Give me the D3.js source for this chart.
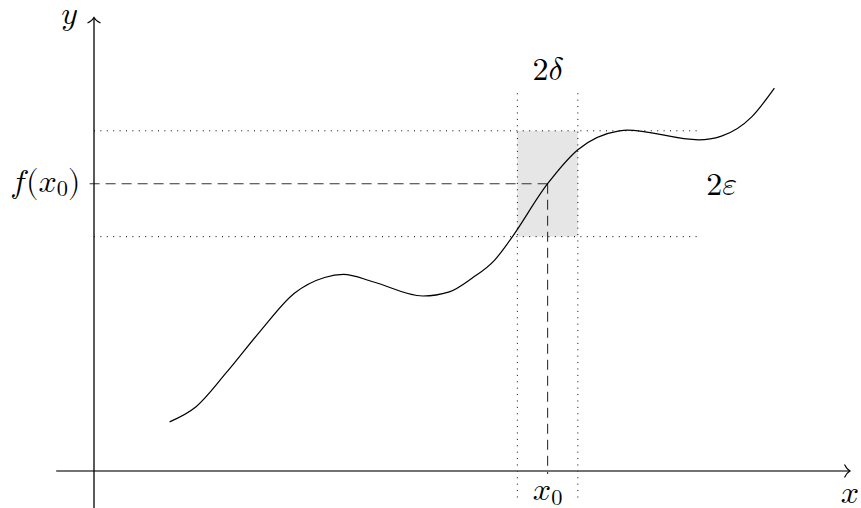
<!DOCTYPE html>
<html>
<head>
<meta charset="utf-8">
<script src="https://cdn.jsdelivr.net/npm/d3@7"></script>
<style>
  html, body { margin: 0; padding: 0; background: #fff; }
</style>
</head>
<body>
<svg id="chart" width="861" height="508"></svg>
<script>
// Curve f(x) (axis units, 1 unit = 1 cm)
const curveX = [2.0, 2.7, 3.5, 4.4, 5.3, 6.1, 6.6, 7.4, 8.7, 9.4, 10.0, 10.6, 11.0, 12.0, 12.8, 13.9, 14.1, 16.0, 16.6, 17.4, 18.0];
const curveY = [1.3, 1.7, 2.6, 3.7, 4.7, 5.12, 5.2, 5.0, 4.63, 4.74, 5.1, 5.58, 6.1, 7.6, 8.5, 9.0, 9.02, 8.76, 8.86, 9.37, 10.13];

// epsilon-delta window
const x0 = 12, delta = 0.8;
const fx0 = 7.6, eps = 1.4;

// axis extents
const xExtent = [-1, 20];
const yExtent = [-1, 12];
const guideXEnd = 16;          // end of the dotted horizontals
const guideYRange = [-0.7, 10]; // extent of the dotted verticals

const CM = 37.8;
const ORIGIN = { x: 94, y: 471 };

const x = d3.scaleLinear().domain([0, 1]).range([ORIGIN.x, ORIGIN.x + CM]);
const y = d3.scaleLinear().domain([0, 1]).range([ORIGIN.y, ORIGIN.y - CM]);

const svg = d3.select('#chart');
const FS = 32;
// Latin Modern Math + unicode math-italic letters = the TeX look
const FONT = '"Latin Modern Math", "Latin Modern Roman", serif';

// ===== shaded box =====
svg.append('rect')
  .attr('x', x(x0 - delta)).attr('y', y(fx0 + eps))
  .attr('width', x(x0 + delta) - x(x0 - delta))
  .attr('height', y(fx0 - eps) - y(fx0 + eps))
  .attr('fill', '#e6e6e6');

// ===== dotted guides =====
const dotted = g => g.attr('stroke', '#000').attr('stroke-width', 1)
  .attr('stroke-dasharray', '1,5.4').attr('fill', 'none');
[fx0 - eps, fx0 + eps].forEach(v => {
  svg.append('line')
    .attr('x1', x(0)).attr('x2', x(guideXEnd))
    .attr('y1', y(v)).attr('y2', y(v))
    .call(dotted);
});
[x0 - delta, x0 + delta].forEach(v => {
  svg.append('line')
    .attr('x1', x(v)).attr('x2', x(v))
    .attr('y1', y(guideYRange[0])).attr('y2', y(guideYRange[1]))
    .call(dotted);
});

// ===== dashed lines to x0 / f(x0) =====
const dashed = g => g.attr('stroke', '#333').attr('stroke-width', 1.1)
  .attr('stroke-dasharray', '10,6').attr('fill', 'none');
svg.append('line')
  .attr('x1', x(x0)).attr('x2', x(-0.17))
  .attr('y1', y(fx0)).attr('y2', y(fx0))
  .call(dashed);
svg.append('line')
  .attr('x1', x(x0)).attr('x2', x(x0))
  .attr('y1', y(fx0)).attr('y2', y(-0.08))
  .call(dashed);

// ===== axes =====
const axisStroke = g => g.attr('stroke', '#000').attr('stroke-width', 1.3).attr('fill', 'none');
svg.append('line')
  .attr('x1', x(xExtent[0])).attr('x2', x(xExtent[1]))
  .attr('y1', y(0)).attr('y2', y(0))
  .attr('stroke', '#444').attr('stroke-width', 1.4);
svg.append('line')
  .attr('x1', x(0)).attr('x2', x(0))
  .attr('y1', y(yExtent[0])).attr('y2', y(yExtent[1]))
  .call(axisStroke);

// arrow tips (TikZ "to" style)
const xt = x(xExtent[1]), yt = y(yExtent[1]);
svg.append('path')
  .attr('d', `M${xt - 5.5},${y(0) - 6.5} Q${xt - 3},${y(0) - 1.5} ${xt},${y(0)} Q${xt - 3},${y(0) + 1.5} ${xt - 5.5},${y(0) + 6.5}`)
  .call(axisStroke).attr('stroke-width', 1.1);
svg.append('path')
  .attr('d', `M${x(0) - 6.5},${yt + 5.5} Q${x(0) - 1.5},${yt + 3} ${x(0)},${yt} Q${x(0) + 1.5},${yt + 3} ${x(0) + 6.5},${yt + 5.5}`)
  .call(axisStroke).attr('stroke-width', 1.1);

// ===== curve =====
const pts = curveX.map((v, i) => [v, curveY[i]]);
const line = d3.line().x(d => x(d[0])).y(d => y(d[1])).curve(d3.curveMonotoneX);
svg.append('path')
  .attr('d', line(pts))
  .attr('fill', 'none').attr('stroke', '#000').attr('stroke-width', 1.2);

// ===== labels =====
function label(px, py, anchor, parts) {
  const t = svg.append('text')
    .attr('x', px).attr('y', py)
    .attr('text-anchor', anchor)
    .style('font-family', FONT)
    .style('font-size', FS + 'px')
    .attr('fill', '#000');
  parts.forEach(p => {
    const s = t.append('tspan').text(p.t);
    if (p.sub) s.style('font-size', (FS * 0.7) + 'px').attr('dy', 4.5);
    if (p.after) s.attr('dy', -4.5);
  });
  return t;
}

label(x(-0.66), y(yExtent[1]) + 7, 'middle', [{ t: '𝑦' }]);
label(x(xExtent[1]), y(0) + 32, 'middle', [{ t: '𝑥' }]);
label(x(x0), y(guideYRange[1]) - 13, 'middle', [{ t: '2𝛿' }]);
label(x(guideXEnd) + 23, y(fx0) + 11, 'middle', [{ t: '2𝜀' }]);
label(x(x0), y(0) + 29, 'middle', [{ t: '𝑥' }, { t: '0', sub: true }]);
label(x(-0.36), y(fx0) + 8, 'end', [{ t: '𝑓(𝑥' }, { t: '0', sub: true }, { t: ')', after: true }]);
</script>
</body>
</html>
